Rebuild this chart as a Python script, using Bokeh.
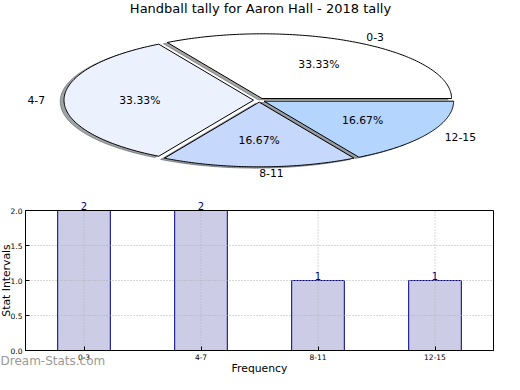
import numpy as np
from bokeh.plotting import figure
from bokeh.layouts import column
from bokeh.models import (Range1d, ColumnDataSource, Label, FixedTicker,
                          PrintfTickFormatter, LinearAxis)
from bokeh.embed import file_html
from bokeh.resources import INLINE
from bokeh.core.properties import value

# ---------------- data ----------------
title_text = "Handball tally for Aaron Hall - 2018 tally"
categories = ["0-3", "4-7", "8-11", "12-15"]
counts = [2, 2, 1, 1]
wedge_colors = ["#FFFFFF", "#EBF2FE", "#C6D9FC", "#B3D5FE"]
y_ticks = [0.0, 0.5, 1.0, 1.5, 2.0]
x_label = "Frequency"
y_label = "Stat Intervals"
watermark = "Dream-Stats.com"

FONT = "DejaVu Sans"
W = 504

# ---------------- pie ----------------
PIE_H = 180
cx, cy, rx, ry = 258.7, 99.7, 189.5, 64.7   # pixel placement of the pie ellipse
explode = 0.03
shadow_off = -0.02

pie = figure(frame_width=W, frame_height=PIE_H, output_backend="svg", toolbar_location=None,
             title=None, x_axis_type=None, y_axis_type=None,
             min_border_left=0, min_border_right=0, min_border_top=0, min_border_bottom=0,
             x_range=Range1d(-cx / rx, (W - cx) / rx),
             y_range=Range1d(-(PIE_H - cy) / ry, cy / ry),
             outline_line_color=None, background_fill_color="white")
pie.grid.visible = False

vals = np.array(counts, dtype=float)
frac = vals / vals.sum()
cum = np.concatenate([[0], np.cumsum(frac)]) * 360.0

xs, ys, sxs, sys_, shcol = [], [], [], [], []
lab_x, lab_y, lab_align, pct_x, pct_y, pct_txt = [], [], [], [], [], []
for i in range(len(vals)):
    t1, t2 = cum[i], cum[i + 1]
    mid = np.deg2rad((t1 + t2) / 2)
    ox, oy = explode * np.cos(mid), explode * np.sin(mid)
    arc = np.deg2rad(np.linspace(t1, t2, 120))
    px = np.concatenate([[ox], ox + np.cos(arc)])
    py = np.concatenate([[oy], oy + np.sin(arc)])
    xs.append(list(px)); ys.append(list(py))
    sxs.append(list(px + shadow_off)); sys_.append(list(py + shadow_off))
    c = wedge_colors[i].lstrip("#")
    rgb = [int(c[k:k + 2], 16) for k in (0, 2, 4)]
    shcol.append("#%02x%02x%02x" % tuple(int(0.3 * v) for v in rgb))
    lab_x.append(ox + 1.1 * np.cos(mid)); lab_y.append(oy + 1.1 * np.sin(mid))
    lab_align.append("left" if np.cos(mid) >= -1e-9 else "right")
    pct_x.append(ox + 0.6 * np.cos(mid)); pct_y.append(oy + 0.6 * np.sin(mid))
    pct_txt.append("%.2f%%" % (frac[i] * 100))

pie.patches(sxs, sys_, fill_color=shcol, fill_alpha=0.5, line_color=shcol, line_alpha=0.5)
pie.patches(xs, ys, fill_color=wedge_colors, line_color="black", line_width=1)

lab_src = ColumnDataSource(dict(x=lab_x, y=lab_y, t=categories, a=lab_align))
pie.text("x", "y", text="t", source=lab_src, text_align="a", text_baseline="middle",
         text_font=value(FONT), text_font_size="10.8px", text_color="black")
pct_src = ColumnDataSource(dict(x=pct_x, y=pct_y, t=pct_txt))
pie.text("x", "y", text="t", source=pct_src, text_align="center", text_baseline="middle",
         text_font=value(FONT), text_font_size="10.8px", text_color="black")

pie.add_layout(Label(x=260, y=PIE_H, x_units="screen", y_units="screen", text=title_text,
                     text_align="center", text_baseline="top", text_font=FONT,
                     text_font_size="13px", text_color="black"))

# ---------------- bars ----------------
BAR_H = 194
BOX_L, BOX_R, BOX_T, BOX_B = 25, 493, 30, 170   # pixel box of the axes inside this figure
n = len(categories)
xpos = list(range(n))
x_lo, x_hi = -0.5, n - 0.5
y_lo, y_hi = y_ticks[0], y_ticks[-1]
kx = (BOX_R - BOX_L) / (x_hi - x_lo)
ky = (BOX_B - BOX_T) / (y_hi - y_lo)

bar = figure(frame_width=W, frame_height=BAR_H, output_backend="svg", toolbar_location=None,
             title=None, x_axis_type=None, y_axis_type=None,
             min_border_left=0, min_border_right=0, min_border_top=0, min_border_bottom=0,
             x_range=Range1d(x_lo - BOX_L / kx, x_hi + (W - BOX_R) / kx),
             y_range=Range1d(y_lo - (BAR_H - BOX_B) / ky, y_hi + BOX_T / ky),
             outline_line_color=None, background_fill_color="white")
bar.grid.visible = False

bsrc = ColumnDataSource(dict(x=xpos, top=counts, t=[str(v) for v in counts]))
bar.vbar(x="x", top="top", bottom=y_lo, width=0.45, source=bsrc, fill_color="#CCCCE6",
         line_color="#000080", line_width=1)

# dotted grid over the bars
grid_kw = dict(line_color="#b0b0b0", line_dash="1 2", line_width=1)
bar.segment(x0=[x_lo] * len(y_ticks), y0=y_ticks, x1=[x_hi] * len(y_ticks), y1=y_ticks, **grid_kw)
bar.segment(x0=xpos, y0=[y_lo] * n, x1=xpos, y1=[y_hi] * n, **grid_kw)

# axes box
bar.quad(left=[x_lo], right=[x_hi], bottom=[y_lo], top=[y_hi], fill_color=None,
         line_color="black", line_width=1)

ya = LinearAxis(fixed_location=x_lo, bounds=(y_lo, y_hi), ticker=FixedTicker(ticks=y_ticks),
                formatter=PrintfTickFormatter(format="%.1f"))
xa = LinearAxis(fixed_location=y_lo, bounds=(x_lo, x_hi), ticker=FixedTicker(ticks=xpos),
                major_label_overrides={i: c for i, c in zip(xpos, categories)})
for ax in (ya, xa):
    ax.major_tick_in = 4
    ax.major_tick_out = 0
    ax.minor_tick_line_color = None
    ax.major_label_text_font = FONT
    ax.major_label_text_font_size = "7.5px"
    ax.major_label_text_color = "black"
    ax.axis_line_color = "black"
    ax.major_tick_line_color = "black"
    ax.major_label_standoff = 3
bar.add_layout(ya, "left")
bar.add_layout(xa, "below")

bar.text(x="x", y="top", text="t", source=bsrc, text_align="center",
         text_baseline="bottom", y_offset=-1, text_font=value(FONT),
         text_font_size="10px", text_color="#000080")

bar.add_layout(Label(x=12, y=BAR_H - (BOX_T + BOX_B) / 2, x_units="screen", y_units="screen",
                     text=y_label, angle=np.pi / 2, text_align="center",
                     text_baseline="bottom", text_font=FONT, text_font_size="10.8px",
                     text_color="black"))
bar.add_layout(Label(x=(BOX_L + BOX_R) / 2, y=BAR_H - BOX_B - 11, x_units="screen",
                     y_units="screen", text=x_label, text_align="center", text_baseline="top",
                     text_font=FONT, text_font_size="10.8px", text_color="black"))
bar.add_layout(Label(x=0, y=BAR_H - BOX_B - 17, x_units="screen", y_units="screen",
                     text=watermark, text_align="left", text_baseline="bottom",
                     text_font=FONT, text_font_size="12px", text_color="#999999"))

layout = column(pie, bar, spacing=0)
open("out.html", "w").write(file_html(layout, INLINE))
